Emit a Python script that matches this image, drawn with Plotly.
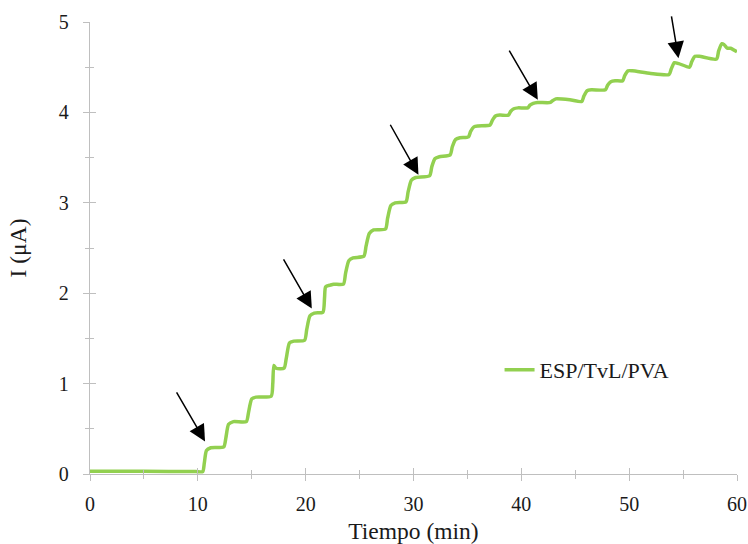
import plotly.graph_objects as go

# Time (min) and current (µA)
tiempo = [0, 5, 9.8, 10.45, 10.6, 10.8, 11.2, 12.4, 12.6, 12.85, 13.3, 14.5, 14.7, 15.0, 15.4,
          16.8, 16.95, 17.05, 17.25, 18.0, 18.2, 18.5, 18.9, 19.9, 20.1, 20.4, 20.8,
          21.6, 21.75, 21.85, 22.3, 22.6, 23.5, 23.7, 24.0, 24.4, 25.4, 25.6, 25.9,
          26.3, 27.4, 27.6, 27.9, 28.3, 29.3, 29.5, 29.8, 30.2, 31.5, 31.7, 32.0,
          32.4, 33.4, 33.6, 33.9, 34.3, 35.1, 35.3, 35.6, 36.0, 37.1, 37.3, 37.6,
          38.0, 38.8, 39.0, 39.3, 39.7, 40.6, 40.8, 41.1, 41.5, 42.7, 42.9, 43.2,
          44.5, 45.6, 45.8, 46.1, 46.5, 47.8, 48.0, 48.3, 48.7, 49.4, 49.6, 49.9,
          50.3, 52.0, 53.7, 53.9, 54.2, 54.6, 55.6, 55.8, 56.1, 56.5, 58.1, 58.3,
          58.6, 58.8, 59.1, 59.4, 60]
corriente = [0.03, 0.03, 0.027, 0.027, 0.12, 0.26, 0.29, 0.30, 0.40, 0.55, 0.58, 0.58, 0.68, 0.83, 0.85,
             0.86, 1.00, 1.20, 1.17, 1.17, 1.28, 1.45, 1.47, 1.48, 1.60, 1.75, 1.78,
             1.79, 1.95, 2.07, 2.09, 2.10, 2.10, 2.22, 2.36, 2.39, 2.41, 2.52, 2.66,
             2.70, 2.71, 2.83, 2.97, 3.00, 3.01, 3.12, 3.25, 3.28, 3.30, 3.40, 3.49,
             3.51, 3.53, 3.62, 3.70, 3.72, 3.73, 3.79, 3.84, 3.85, 3.86, 3.91, 3.96,
             3.97, 3.97, 4.01, 4.04, 4.05, 4.05, 4.08, 4.10, 4.11, 4.11, 4.13, 4.15,
             4.14, 4.12, 4.18, 4.24, 4.25, 4.25, 4.30, 4.34, 4.35, 4.35, 4.41, 4.46,
             4.46, 4.43, 4.42, 4.48, 4.55, 4.54, 4.50, 4.56, 4.62, 4.62, 4.59, 4.68,
             4.76, 4.75, 4.71, 4.71, 4.67]

# Arrows: tip (x, y) and tail (x, y) in data units
flecha_x = [10.67, 20.57, 30.46, 41.53, 54.57]
flecha_y = [0.36, 1.83, 3.31, 4.14, 4.60]
cola_x = [7.95, 17.87, 27.77, 38.80, 53.90]
cola_y = [0.92, 2.39, 3.88, 4.70, 5.08]

serie = "ESP/TvL/PVA"
x_ticks = [0, 10, 20, 30, 40, 50, 60]
y_ticks = [0, 1, 2, 3, 4, 5]

FONT = "Liberation Serif"
AX = "#bfbfbf"
TXT = "#1a1a1a"

fig = go.Figure()
fig.add_trace(go.Scatter(
    x=tiempo, y=corriente, mode="lines", name=serie,
    line=dict(color="#92d050", width=3.5, shape="spline", smoothing=0.6),
))
# empty trace to attach the overlay axes (inner half of crossing ticks)
fig.add_trace(go.Scatter(x=[], y=[], xaxis="x2", yaxis="y2", showlegend=False, hoverinfo="skip"))

for tx, ty, cx, cy in zip(flecha_x, flecha_y, cola_x, cola_y):
    fig.add_annotation(x=tx, y=ty, ax=cx, ay=cy, xref="x", yref="y", axref="x", ayref="y",
                       text="", showarrow=True, arrowhead=2, arrowsize=2.2, arrowwidth=1.5,
                       arrowcolor="black")

common_font = dict(family=FONT, size=20, color=TXT)

fig.update_layout(
    width=748, height=544,
    margin=dict(l=90, r=11, t=22, b=70, autoexpand=False),
    paper_bgcolor="white", plot_bgcolor="white",
    showlegend=True,
    legend=dict(x=0.633, y=0.23, xanchor="left", yanchor="middle",
                font=dict(family=FONT, size=22, color=TXT), bgcolor="rgba(0,0,0,0)"),
    xaxis=dict(range=[0, 60], tickvals=x_ticks, ticktext=[str(v) for v in x_ticks],
               automargin=False,
               showgrid=False, zeroline=False, showline=True, linecolor=AX, linewidth=1.3,
               ticks="outside", ticklen=6, tickcolor=AX, tickwidth=1.3,
               minor=dict(dtick=5, tick0=0, ticks="outside", ticklen=4, tickcolor=AX, tickwidth=1.3),
               tickfont=common_font, ticklabelstandoff=6,
               title=dict(text="Tiempo (min)", font=dict(family=FONT, size=23.5, color=TXT), standoff=10)),
    yaxis=dict(range=[0, 5], tickvals=y_ticks, ticktext=[str(v) for v in y_ticks],
               automargin=False,
               showgrid=False, zeroline=False, showline=True, linecolor=AX, linewidth=1.3,
               ticks="outside", ticklen=6, tickcolor=AX, tickwidth=1.3,
               minor=dict(dtick=0.5, tick0=0, ticks="outside", ticklen=4, tickcolor=AX, tickwidth=1.3),
               tickfont=common_font, ticklabelstandoff=10,
               title=dict(text="I (μA)", font=dict(family=FONT, size=23.5, color=TXT), standoff=25)),
    xaxis2=dict(range=[0, 60], overlaying="x", anchor="y", side="bottom", automargin=False,
                tickvals=x_ticks, showticklabels=False, showgrid=False, zeroline=False, showline=False,
                ticks="inside", ticklen=6, tickcolor=AX, tickwidth=1.3,
                minor=dict(dtick=5, tick0=0, ticks="inside", ticklen=4, tickcolor=AX, tickwidth=1.3)),
    yaxis2=dict(range=[0, 5], overlaying="y", anchor="x", side="left", automargin=False,
                tickvals=y_ticks, showticklabels=False, showgrid=False, zeroline=False, showline=False,
                ticks="inside", ticklen=6, tickcolor=AX, tickwidth=1.3,
                minor=dict(dtick=0.5, tick0=0, ticks="inside", ticklen=4, tickcolor=AX, tickwidth=1.3)),
)

fig.write_html("out.html")
